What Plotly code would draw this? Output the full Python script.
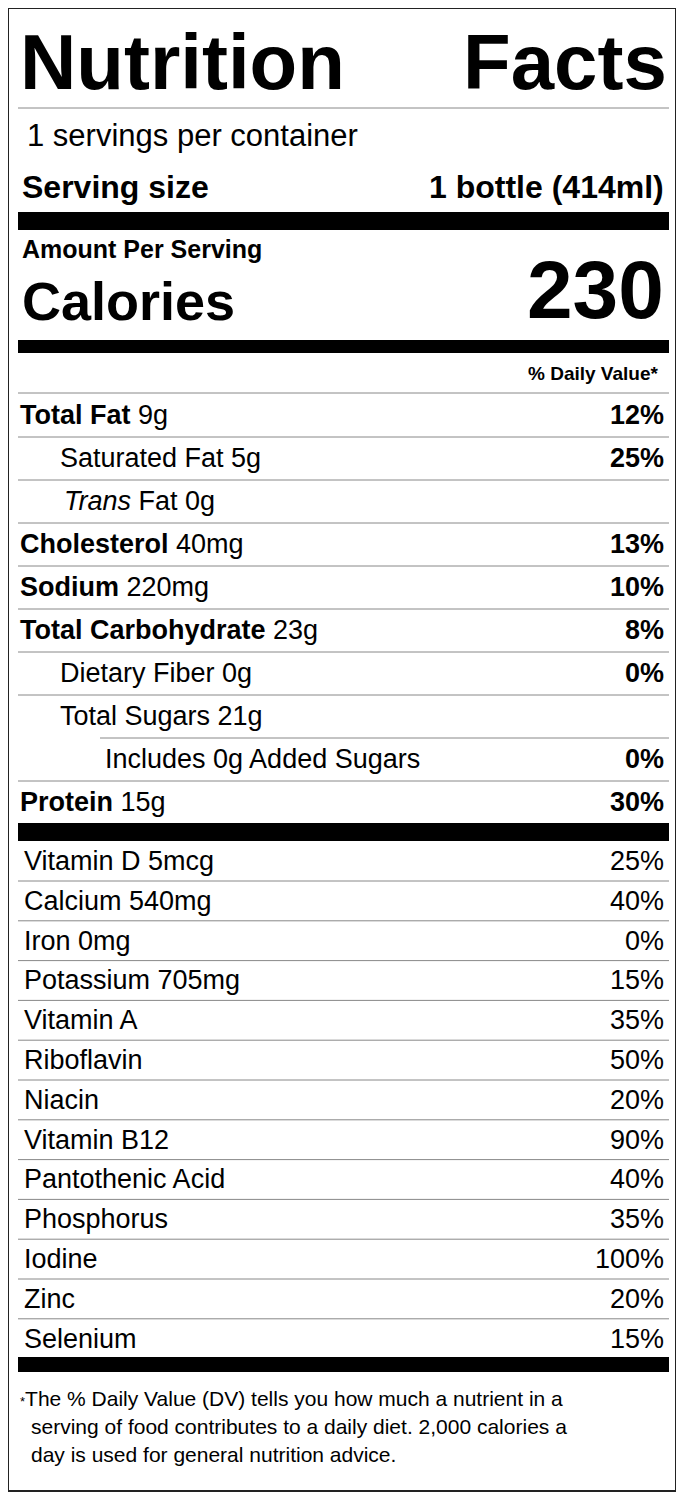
import plotly.graph_objects as go

serving_per = "1 servings per container"
serving_size = "1 bottle (414ml)"
calories = 230

main_labels = ["Total Fat", "Saturated Fat", "<i>Trans</i> Fat", "Cholesterol", "Sodium",
               "Total Carbohydrate", "Dietary Fiber", "Total Sugars", "Includes 0g Added Sugars", "Protein"]
main_amounts = ["9g", "5g", "0g", "40mg", "220mg", "23g", "0g", "21g", "", "15g"]
main_dv = ["12%", "25%", "", "13%", "10%", "8%", "0%", "", "0%", "30%"]
main_level = [0, 1, 1, 0, 0, 0, 1, 1, 2, 0]

vit_labels = ["Vitamin D 5mcg", "Calcium 540mg", "Iron 0mg", "Potassium 705mg", "Vitamin A",
              "Riboflavin", "Niacin", "Vitamin B12", "Pantothenic Acid", "Phosphorus",
              "Iodine", "Zinc", "Selenium"]
vit_dv = ["25%", "40%", "0%", "15%", "35%", "50%", "20%", "90%", "40%", "35%", "100%", "20%", "15%"]

footnote = ["The % Daily Value (DV) tells you how much a nutrient in a",
            "serving of food contributes to a daily diet. 2,000 calories a",
            "day is used for general nutrition advice."]

NARROW = "Liberation Sans Narrow, Arial Narrow, Liberation Sans, Arial"
WIDE = "Liberation Sans, Arial"
fig = go.Figure()
shapes = []
ann = []

def txt(x, y, s, size, anchor="left", bold=False, font=NARROW):
    if bold:
        s = "<b>" + s + "</b>"
    ann.append(dict(x=x, y=y, text=s, xref="x", yref="y", showarrow=False,
                    xanchor=anchor, yanchor="middle",
                    font=dict(family=font, size=size, color="black")))

def hline(y, x0=18, x1=669, w=1, color="#888"):
    shapes.append(dict(type="line", x0=x0, x1=x1, y0=y, y1=y, xref="x", yref="y",
                       line=dict(color=color, width=w)))

def bar(y0, y1):
    shapes.append(dict(type="rect", x0=18, x1=669, y0=y0, y1=y1, xref="x", yref="y",
                       fillcolor="black", line=dict(width=0)))

shapes.append(dict(type="rect", x0=8, x1=676, y0=8, y1=1491, xref="x", yref="y",
                   line=dict(color="#222", width=2)))

txt(18, 62, "Nutrition", 78, bold=True, font=WIDE)
txt(669, 62, "Facts", 78, anchor="right", bold=True, font=WIDE)
hline(108)
txt(25, 135, serving_per, 31)
txt(20, 187, "Serving size", 32, bold=True)
txt(666, 187, serving_size, 32, anchor="right", bold=True)
bar(212, 230)
txt(20, 249, "Amount Per Serving", 25, bold=True)
txt(20, 301, "Calories", 54, bold=True)
txt(666, 289, str(calories), 82, anchor="right", bold=True)
bar(340, 353)
txt(661, 373, "% Daily Value*", 19, anchor="right", bold=True)
hline(393)

indent = [18, 58, 103]
y = 415
for i, lab in enumerate(main_labels):
    lvl = main_level[i]
    if lvl == 0:
        s = "<b>" + lab + "</b> " + main_amounts[i]
    else:
        s = lab + (" " + main_amounts[i] if main_amounts[i] else "")
    txt(indent[lvl] if not lab.startswith("<i>") else 62, y, s, 27)
    if main_dv[i]:
        txt(666, y, main_dv[i], 27, anchor="right", bold=True)
    if i < len(main_labels) - 1:
        nxt = main_level[i + 1]
        hline(y + 22, x0=100 if nxt == 2 else 18)
    y += 43
bar(823, 841)

y = 861
for i, lab in enumerate(vit_labels):
    txt(22, y, lab, 27)
    txt(666, y, vit_dv[i], 27, anchor="right")
    if i < len(vit_labels) - 1:
        hline(y + 20)
    y += 39.8
bar(1357, 1372)

txt(18, 1398, "<span style='font-size:13px'>*</span>" + footnote[0], 21)
for j, line in enumerate(footnote[1:]):
    txt(29, 1426 + 28 * j, line, 21)

# page body has an 8px default margin, so offset the axis ranges to compensate
fig.update_layout(width=684, height=1500, margin=dict(l=0, r=0, t=0, b=0),
                  paper_bgcolor="white", plot_bgcolor="white",
                  xaxis=dict(range=[8, 692], visible=False, fixedrange=True),
                  yaxis=dict(range=[1508, 8], visible=False, fixedrange=True),
                  shapes=shapes, annotations=ann, showlegend=False)
fig.write_html("out.html")
